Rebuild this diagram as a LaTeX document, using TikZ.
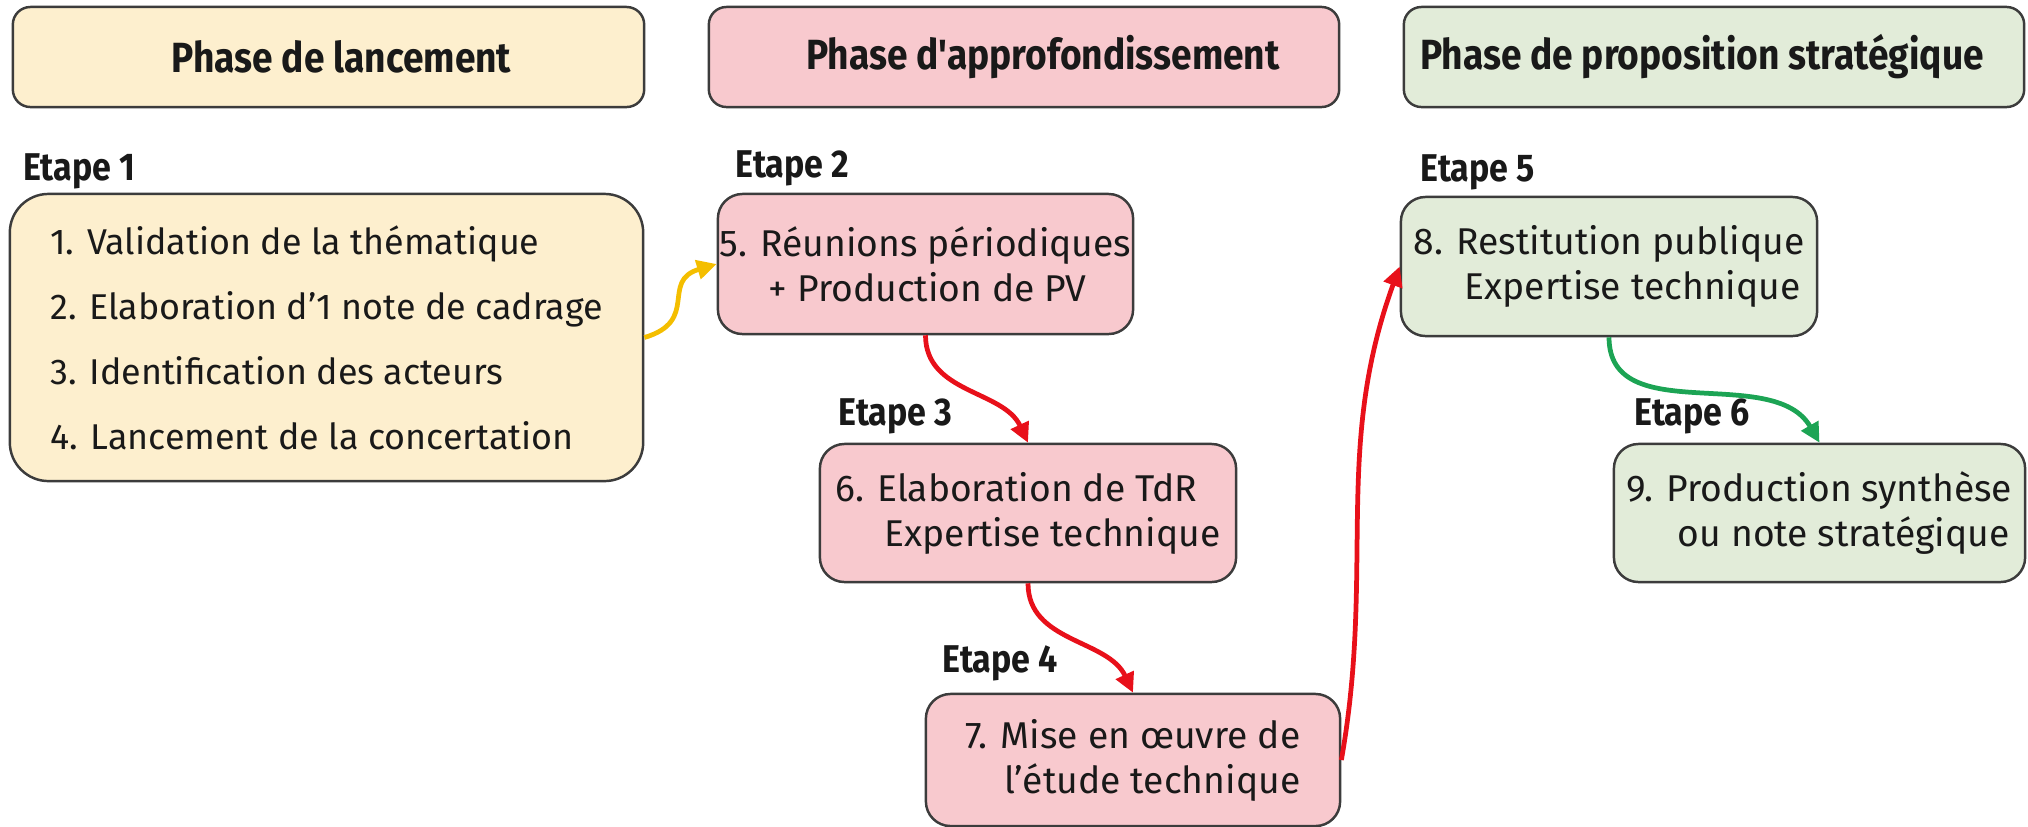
\documentclass[tikz,border=0pt]{standalone}
\usepackage{fontspec}
\setmainfont{Fira Sans}
\newfontfamily\headfont[FakeStretch=0.88]{Fira Sans}
\usetikzlibrary{arrows.meta}
\definecolor{yfill}{RGB}{253,239,206}
\definecolor{pfill}{RGB}{248,201,206}
\definecolor{gfill}{RGB}{226,236,217}
\definecolor{bordc}{RGB}{60,60,60}
\definecolor{txt}{RGB}{25,25,25}
\definecolor{yarrow}{RGB}{244,190,0}
\definecolor{rarrow}{RGB}{232,16,26}
\definecolor{garrow}{RGB}{28,164,84}
\begin{document}
\begin{tikzpicture}[x=0.01cm,y=0.01cm,
  box/.style={draw=bordc, line width=0.7pt, rounded corners=7pt, inner sep=0pt, text=txt},
  phase/.style={box, rounded corners=5pt, minimum height=1cm, font=\headfont\bfseries\fontsize{12}{14}\selectfont},
  etape/.style={anchor=west, inner sep=0pt, font=\headfont\bfseries\fontsize{11}{13}\selectfont, text=txt},
  stepbox/.style={box, font=\fontsize{10.6}{12.8}\selectfont, align=left},
  conn/.style={line width=1.35pt, -{Triangle[length=5.6pt,width=5.4pt]}},
]
\useasboundingbox (0,0) rectangle (2028,826);

% phase headers
\node[phase, fill=yfill, minimum width=6.31cm] (ph1) at (328.5,769) {\hspace*{0.26cm}Phase de lancement};
\node[phase, fill=pfill, minimum width=6.30cm] (ph2) at (1024,769) {\hspace*{0.38cm}Phase d'approfondissement};
\node[phase, fill=gfill, minimum width=6.20cm] (ph3) at (1714,769) {Phase de proposition stratégique\hspace*{0.24cm}};

% step boxes
\node[stepbox, fill=yfill, rounded corners=11pt, minimum width=6.33cm, minimum height=2.87cm,
      font=\fontsize{10.2}{18.5}\selectfont] (b1) at (326.5,488.5)
  {1. Validation de la thématique\\2. Elaboration d’1 note de cadrage\\3. Identification des acteurs\\4. Lancement de la concertation};
\node[stepbox, fill=pfill, minimum width=4.15cm, minimum height=1.40cm] (b5) at (925.5,562)
  {5. Réunions périodiques\\\hspace*{0.49cm}+ Production de PV};
\node[stepbox, fill=pfill, minimum width=4.16cm, minimum height=1.38cm] (b6) at (1028,313)
  {6. Elaboration de TdR\\\hspace*{0.49cm}Expertise technique};
\node[stepbox, fill=pfill, minimum width=4.14cm, minimum height=1.32cm, align=right] (b7) at (1133,66)
  {7. Mise en œuvre de\\l’étude technique};
\node[stepbox, fill=gfill, minimum width=4.16cm, minimum height=1.39cm] (b8) at (1609,559.5)
  {8. Restitution publique\\\hspace*{0.51cm}Expertise technique};
\node[stepbox, fill=gfill, minimum width=4.11cm, minimum height=1.38cm] (b9) at (1819.5,313)
  {9. Production synthèse\\\hspace*{0.51cm}ou note stratégique};

% step labels
\node[etape] (e1) at (23,655) {Etape 1};
\node[etape] (e2) at (735,658) {Etape 2};
\node[etape] (e3) at (838,410) {Etape 3};
\node[etape] (e4) at (942,163) {Etape 4};
\node[etape] (e5) at (1420,654) {Etape 5};
\node[etape] (e6) at (1634,410) {Etape 6};

% connectors
\draw[conn, draw=yarrow] (b1.east) .. controls (700,505) and (660,545) .. (b5.west);
\draw[conn, draw=rarrow] (b5.south) to[out=-90,in=115] (b6.north);
\draw[conn, draw=rarrow] (b6.south) to[out=-90,in=115] (b7.north);
\draw[conn, draw=rarrow] (b7.east) to[out=80,in=250] (b8.west);
\draw[conn, draw=garrow] (b8.south) to[out=-90,in=120] (b9.north);
\end{tikzpicture}
\end{document}
